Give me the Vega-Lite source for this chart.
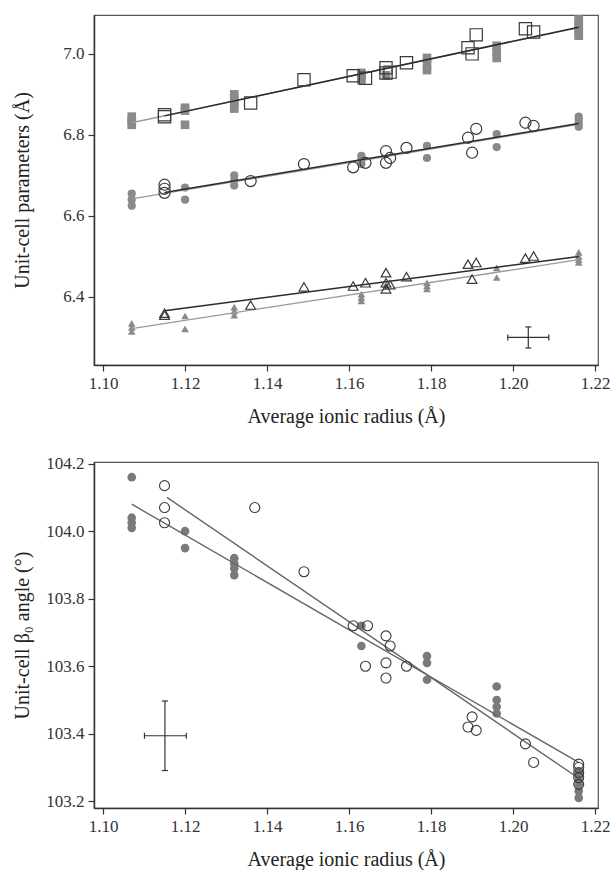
{
  "$schema": "https://vega.github.io/schema/vega-lite/v6.json",
  "background": "white",
  "padding": {"left": 12, "top": 14, "right": 0, "bottom": 0},
  "spacing": 27,
  "config": {
    "view": {"stroke": "#555", "strokeWidth": 1.2},
    "axis": {
      "grid": false,
      "labelFont": "Liberation Serif", "labelFontSize": 17, "labelColor": "#333",
      "titleFont": "Liberation Serif", "titleFontSize": 20, "titleFontWeight": "normal", "titleColor": "#222",
      "domainColor": "#333", "domainWidth": 1.5, "tickColor": "#333", "tickWidth": 1.2, "tickSize": 6, "labelPadding": 4
    },
    "axisX": {"titlePadding": 15}
  },
  "datasets": {
    "ptsA": [
      {"param":"sq","kind":"filled","x":1.107,"y":6.845},{"param":"sq","kind":"filled","x":1.107,"y":6.835},{"param":"sq","kind":"filled","x":1.107,"y":6.825},
      {"param":"sq","kind":"filled","x":1.120,"y":6.867},{"param":"sq","kind":"filled","x":1.120,"y":6.86},{"param":"sq","kind":"filled","x":1.120,"y":6.825},
      {"param":"sq","kind":"filled","x":1.132,"y":6.9},{"param":"sq","kind":"filled","x":1.132,"y":6.888},{"param":"sq","kind":"filled","x":1.132,"y":6.875},{"param":"sq","kind":"filled","x":1.132,"y":6.865},
      {"param":"sq","kind":"filled","x":1.163,"y":6.953},{"param":"sq","kind":"filled","x":1.163,"y":6.945},{"param":"sq","kind":"filled","x":1.163,"y":6.935},
      {"param":"sq","kind":"filled","x":1.169,"y":6.947},
      {"param":"sq","kind":"filled","x":1.179,"y":6.99},{"param":"sq","kind":"filled","x":1.179,"y":6.975},{"param":"sq","kind":"filled","x":1.179,"y":6.96},
      {"param":"sq","kind":"filled","x":1.196,"y":7.02},{"param":"sq","kind":"filled","x":1.196,"y":7.005},{"param":"sq","kind":"filled","x":1.196,"y":6.99},
      {"param":"sq","kind":"filled","x":1.216,"y":7.085},{"param":"sq","kind":"filled","x":1.216,"y":7.075},{"param":"sq","kind":"filled","x":1.216,"y":7.065},{"param":"sq","kind":"filled","x":1.216,"y":7.055},{"param":"sq","kind":"filled","x":1.216,"y":7.045},
      {"param":"sq","kind":"open","x":1.115,"y":6.85},{"param":"sq","kind":"open","x":1.115,"y":6.845},
      {"param":"sq","kind":"open","x":1.136,"y":6.879},{"param":"sq","kind":"open","x":1.149,"y":6.936},
      {"param":"sq","kind":"open","x":1.161,"y":6.946},{"param":"sq","kind":"open","x":1.164,"y":6.94},
      {"param":"sq","kind":"open","x":1.169,"y":6.966},{"param":"sq","kind":"open","x":1.169,"y":6.953},{"param":"sq","kind":"open","x":1.170,"y":6.955},
      {"param":"sq","kind":"open","x":1.174,"y":6.978},{"param":"sq","kind":"open","x":1.189,"y":7.015},{"param":"sq","kind":"open","x":1.190,"y":7.0},
      {"param":"sq","kind":"open","x":1.191,"y":7.047},{"param":"sq","kind":"open","x":1.203,"y":7.062},{"param":"sq","kind":"open","x":1.205,"y":7.054},
      {"param":"ci","kind":"filled","x":1.107,"y":6.655},{"param":"ci","kind":"filled","x":1.107,"y":6.64},{"param":"ci","kind":"filled","x":1.107,"y":6.625},
      {"param":"ci","kind":"filled","x":1.120,"y":6.67},{"param":"ci","kind":"filled","x":1.120,"y":6.64},
      {"param":"ci","kind":"filled","x":1.132,"y":6.70},{"param":"ci","kind":"filled","x":1.132,"y":6.688},{"param":"ci","kind":"filled","x":1.132,"y":6.675},
      {"param":"ci","kind":"filled","x":1.163,"y":6.748},{"param":"ci","kind":"filled","x":1.163,"y":6.738},{"param":"ci","kind":"filled","x":1.163,"y":6.728},
      {"param":"ci","kind":"filled","x":1.179,"y":6.773},{"param":"ci","kind":"filled","x":1.179,"y":6.743},
      {"param":"ci","kind":"filled","x":1.196,"y":6.802},{"param":"ci","kind":"filled","x":1.196,"y":6.77},
      {"param":"ci","kind":"filled","x":1.216,"y":6.845},{"param":"ci","kind":"filled","x":1.216,"y":6.837},{"param":"ci","kind":"filled","x":1.216,"y":6.828},{"param":"ci","kind":"filled","x":1.216,"y":6.82},
      {"param":"ci","kind":"open","x":1.115,"y":6.677},{"param":"ci","kind":"open","x":1.115,"y":6.667},{"param":"ci","kind":"open","x":1.115,"y":6.657},
      {"param":"ci","kind":"open","x":1.136,"y":6.686},{"param":"ci","kind":"open","x":1.149,"y":6.728},{"param":"ci","kind":"open","x":1.161,"y":6.72},
      {"param":"ci","kind":"open","x":1.164,"y":6.731},{"param":"ci","kind":"open","x":1.169,"y":6.76},{"param":"ci","kind":"open","x":1.169,"y":6.731},
      {"param":"ci","kind":"open","x":1.170,"y":6.743},{"param":"ci","kind":"open","x":1.174,"y":6.768},{"param":"ci","kind":"open","x":1.189,"y":6.793},
      {"param":"ci","kind":"open","x":1.190,"y":6.756},{"param":"ci","kind":"open","x":1.191,"y":6.815},{"param":"ci","kind":"open","x":1.203,"y":6.83},{"param":"ci","kind":"open","x":1.205,"y":6.822},
      {"param":"tr","kind":"filled","x":1.107,"y":6.335},{"param":"tr","kind":"filled","x":1.107,"y":6.325},{"param":"tr","kind":"filled","x":1.107,"y":6.315},
      {"param":"tr","kind":"filled","x":1.120,"y":6.353},{"param":"tr","kind":"filled","x":1.120,"y":6.321},
      {"param":"tr","kind":"filled","x":1.132,"y":6.375},{"param":"tr","kind":"filled","x":1.132,"y":6.365},{"param":"tr","kind":"filled","x":1.132,"y":6.355},
      {"param":"tr","kind":"filled","x":1.163,"y":6.407},{"param":"tr","kind":"filled","x":1.163,"y":6.398},{"param":"tr","kind":"filled","x":1.163,"y":6.39},
      {"param":"tr","kind":"filled","x":1.169,"y":6.43},
      {"param":"tr","kind":"filled","x":1.179,"y":6.435},{"param":"tr","kind":"filled","x":1.179,"y":6.427},{"param":"tr","kind":"filled","x":1.179,"y":6.42},
      {"param":"tr","kind":"filled","x":1.196,"y":6.472},{"param":"tr","kind":"filled","x":1.196,"y":6.448},
      {"param":"tr","kind":"filled","x":1.216,"y":6.51},{"param":"tr","kind":"filled","x":1.216,"y":6.5},{"param":"tr","kind":"filled","x":1.216,"y":6.492},{"param":"tr","kind":"filled","x":1.216,"y":6.485},
      {"param":"tr","kind":"open","x":1.115,"y":6.36},{"param":"tr","kind":"open","x":1.115,"y":6.355},
      {"param":"tr","kind":"open","x":1.136,"y":6.38},{"param":"tr","kind":"open","x":1.149,"y":6.425},{"param":"tr","kind":"open","x":1.161,"y":6.427},
      {"param":"tr","kind":"open","x":1.164,"y":6.435},{"param":"tr","kind":"open","x":1.169,"y":6.46},{"param":"tr","kind":"open","x":1.169,"y":6.435},{"param":"tr","kind":"open","x":1.169,"y":6.42},
      {"param":"tr","kind":"open","x":1.170,"y":6.43},{"param":"tr","kind":"open","x":1.174,"y":6.45},{"param":"tr","kind":"open","x":1.189,"y":6.481},
      {"param":"tr","kind":"open","x":1.190,"y":6.444},{"param":"tr","kind":"open","x":1.191,"y":6.485},{"param":"tr","kind":"open","x":1.203,"y":6.496},{"param":"tr","kind":"open","x":1.205,"y":6.501}
    ],
    "linesA": [
      {"param":"sq","fit":"filled","x":1.107,"y":6.83},{"param":"sq","fit":"filled","x":1.216,"y":7.065},
      {"param":"sq","fit":"open","x":1.115,"y":6.847},{"param":"sq","fit":"open","x":1.216,"y":7.066},
      {"param":"ci","fit":"filled","x":1.107,"y":6.642},{"param":"ci","fit":"filled","x":1.216,"y":6.826},
      {"param":"ci","fit":"open","x":1.115,"y":6.658},{"param":"ci","fit":"open","x":1.216,"y":6.828},
      {"param":"tr","fit":"filled","x":1.107,"y":6.322},{"param":"tr","fit":"filled","x":1.216,"y":6.492},
      {"param":"tr","fit":"open","x":1.115,"y":6.366},{"param":"tr","fit":"open","x":1.216,"y":6.5}
    ],
    "errA": [{"x":1.2037,"y":6.3,"xlo":1.1987,"xhi":1.2087,"ylo":6.274,"yhi":6.326}],
    "ptsB": [
      {"kind":"filled","x":1.107,"y":104.16},{"kind":"filled","x":1.107,"y":104.04},{"kind":"filled","x":1.107,"y":104.025},{"kind":"filled","x":1.107,"y":104.01},
      {"kind":"filled","x":1.120,"y":104.0},{"kind":"filled","x":1.120,"y":103.95},
      {"kind":"filled","x":1.132,"y":103.92},{"kind":"filled","x":1.132,"y":103.905},{"kind":"filled","x":1.132,"y":103.89},{"kind":"filled","x":1.132,"y":103.87},
      {"kind":"filled","x":1.163,"y":103.72},{"kind":"filled","x":1.163,"y":103.66},
      {"kind":"filled","x":1.179,"y":103.63},{"kind":"filled","x":1.179,"y":103.61},{"kind":"filled","x":1.179,"y":103.56},
      {"kind":"filled","x":1.196,"y":103.54},{"kind":"filled","x":1.196,"y":103.5},{"kind":"filled","x":1.196,"y":103.48},{"kind":"filled","x":1.196,"y":103.46},
      {"kind":"filled","x":1.216,"y":103.285},{"kind":"filled","x":1.216,"y":103.27},{"kind":"filled","x":1.216,"y":103.25},{"kind":"filled","x":1.216,"y":103.23},{"kind":"filled","x":1.216,"y":103.21},
      {"kind":"open","x":1.115,"y":104.135},{"kind":"open","x":1.115,"y":104.07},{"kind":"open","x":1.115,"y":104.025},
      {"kind":"open","x":1.137,"y":104.07},{"kind":"open","x":1.149,"y":103.88},{"kind":"open","x":1.161,"y":103.72},
      {"kind":"open","x":1.1645,"y":103.72},{"kind":"open","x":1.164,"y":103.6},
      {"kind":"open","x":1.169,"y":103.69},{"kind":"open","x":1.169,"y":103.61},{"kind":"open","x":1.169,"y":103.565},
      {"kind":"open","x":1.170,"y":103.66},{"kind":"open","x":1.174,"y":103.6},
      {"kind":"open","x":1.189,"y":103.42},{"kind":"open","x":1.190,"y":103.45},{"kind":"open","x":1.191,"y":103.41},
      {"kind":"open","x":1.203,"y":103.37},{"kind":"open","x":1.205,"y":103.315},
      {"kind":"open","x":1.216,"y":103.31},{"kind":"open","x":1.216,"y":103.3},{"kind":"open","x":1.216,"y":103.285},{"kind":"open","x":1.216,"y":103.27},{"kind":"open","x":1.216,"y":103.25}
    ],
    "linesB": [
      {"fit":"filled","x":1.107,"y":104.08},{"fit":"filled","x":1.216,"y":103.315},
      {"fit":"open","x":1.1156,"y":104.1},{"fit":"open","x":1.216,"y":103.268}
    ],
    "errB": [{"x":1.1151,"y":103.394,"xlo":1.1101,"xhi":1.1203,"ylo":103.291,"yhi":103.497}]
  },
  "vconcat": [
    {
      "width": 504, "height": 350,
      "resolve": {"scale": {"size": "independent"}},
      "layer": [
        {
          "data": {"name": "ptsA"},
          "transform": [{"filter": "datum.kind == 'filled'"}],
          "mark": {"type": "point", "filled": true, "color": "#8a8a8a", "opacity": 1},
          "encoding": {
            "x": {"field": "x", "type": "quantitative", "scale": {"domain": [1.0978, 1.2207], "nice": false, "zero": false},
                  "axis": {"values": [1.10, 1.12, 1.14, 1.16, 1.18, 1.20, 1.22], "format": ".2f"}, "title": "Average ionic radius (Å)"},
            "y": {"field": "y", "type": "quantitative", "scale": {"domain": [6.232, 7.096], "nice": false, "zero": false},
                  "axis": {"values": [6.4, 6.6, 6.8, 7.0], "format": ".1f", "titlePadding": 30}, "title": "Unit-cell parameters (Å)"},
            "shape": {"field": "param", "type": "nominal", "scale": {"domain": ["sq", "ci", "tr"], "range": ["square", "circle", "triangle-up"]}, "legend": null},
            "size": {"field": "param", "type": "nominal", "scale": {"domain": ["sq", "ci", "tr"], "range": [75, 60, 80]}, "legend": null}
          }
        },
        {
          "data": {"name": "linesA"},
          "transform": [{"filter": "datum.fit == 'filled'"}],
          "mark": {"type": "line", "color": "#9a9a9a", "strokeWidth": 1.3},
          "encoding": {"x": {"field": "x", "type": "quantitative"}, "y": {"field": "y", "type": "quantitative"}, "detail": {"field": "param"}}
        },
        {
          "data": {"name": "linesA"},
          "transform": [{"filter": "datum.fit == 'open'"}],
          "mark": {"type": "line", "color": "#2a2a2a", "strokeWidth": 1.5},
          "encoding": {"x": {"field": "x", "type": "quantitative"}, "y": {"field": "y", "type": "quantitative"}, "detail": {"field": "param"}}
        },
        {
          "data": {"name": "ptsA"},
          "transform": [{"filter": "datum.kind == 'open'"}],
          "mark": {"type": "point", "filled": false, "color": "#3a3a3a", "strokeWidth": 1.2, "opacity": 1},
          "encoding": {
            "x": {"field": "x", "type": "quantitative"},
            "y": {"field": "y", "type": "quantitative"},
            "shape": {"field": "param", "type": "nominal", "scale": {"domain": ["sq", "ci", "tr"], "range": ["square", "circle", "triangle-up"]}, "legend": null},
            "size": {"field": "param", "type": "nominal", "scale": {"domain": ["sq", "ci", "tr"], "range": [150, 95, 150]}, "legend": null}
          }
        },
        {
          "data": {"name": "errA"},
          "mark": {"type": "rule", "color": "#333", "strokeWidth": 1.2},
          "encoding": {"x": {"field": "xlo", "type": "quantitative"}, "x2": {"field": "xhi"}, "y": {"field": "y", "type": "quantitative"}}
        },
        {
          "data": {"name": "errA"},
          "mark": {"type": "rule", "color": "#333", "strokeWidth": 1.2},
          "encoding": {"x": {"field": "x", "type": "quantitative"}, "y": {"field": "ylo", "type": "quantitative"}, "y2": {"field": "yhi"}}
        },
        {
          "data": {"name": "errA"},
          "mark": {"type": "tick", "orient": "vertical", "size": 6, "thickness": 1.2, "color": "#333", "opacity": 1},
          "encoding": {"x": {"field": "xlo", "type": "quantitative"}, "y": {"field": "y", "type": "quantitative"}}
        },
        {
          "data": {"name": "errA"},
          "mark": {"type": "tick", "orient": "vertical", "size": 6, "thickness": 1.2, "color": "#333", "opacity": 1},
          "encoding": {"x": {"field": "xhi", "type": "quantitative"}, "y": {"field": "y", "type": "quantitative"}}
        },
        {
          "data": {"name": "errA"},
          "mark": {"type": "tick", "orient": "horizontal", "size": 6, "thickness": 1.2, "color": "#333", "opacity": 1},
          "encoding": {"x": {"field": "x", "type": "quantitative"}, "y": {"field": "ylo", "type": "quantitative"}}
        },
        {
          "data": {"name": "errA"},
          "mark": {"type": "tick", "orient": "horizontal", "size": 6, "thickness": 1.2, "color": "#333", "opacity": 1},
          "encoding": {"x": {"field": "x", "type": "quantitative"}, "y": {"field": "yhi", "type": "quantitative"}}
        },
        {
          "mark": {"type": "text", "text": "a", "font": "Liberation Serif", "fontSize": 18, "fontWeight": "bold", "color": "#222"},
          "encoding": {"x": {"datum": 1.107, "type": "quantitative"}, "y": {"datum": 7.037, "type": "quantitative"}}
        }
      ]
    },
    {
      "width": 504, "height": 346,
      "layer": [
        {
          "data": {"name": "ptsB"},
          "transform": [{"filter": "datum.kind == 'filled'"}],
          "mark": {"type": "circle", "color": "#7a7a7a", "size": 75, "opacity": 1},
          "encoding": {
            "x": {"field": "x", "type": "quantitative", "scale": {"domain": [1.0978, 1.2207], "nice": false, "zero": false},
                  "axis": {"values": [1.10, 1.12, 1.14, 1.16, 1.18, 1.20, 1.22], "format": ".2f"}, "title": "Average ionic radius (Å)"},
            "y": {"field": "y", "type": "quantitative", "scale": {"domain": [103.18, 104.205], "nice": false, "zero": false},
                  "axis": {"values": [103.2, 103.4, 103.6, 103.8, 104.0, 104.2], "format": ".1f", "titlePadding": 13}, "title": "Unit-cell β₀ angle (°)"}
          }
        },
        {
          "data": {"name": "linesB"},
          "mark": {"type": "line", "color": "#666", "strokeWidth": 1.4},
          "encoding": {"x": {"field": "x", "type": "quantitative"}, "y": {"field": "y", "type": "quantitative"}, "detail": {"field": "fit"}}
        },
        {
          "data": {"name": "ptsB"},
          "transform": [{"filter": "datum.kind == 'open'"}],
          "mark": {"type": "point", "shape": "circle", "filled": false, "color": "#3a3a3a", "size": 100, "strokeWidth": 1.1, "opacity": 1},
          "encoding": {"x": {"field": "x", "type": "quantitative"}, "y": {"field": "y", "type": "quantitative"}}
        },
        {
          "data": {"name": "errB"},
          "mark": {"type": "rule", "color": "#333", "strokeWidth": 1.2},
          "encoding": {"x": {"field": "xlo", "type": "quantitative"}, "x2": {"field": "xhi"}, "y": {"field": "y", "type": "quantitative"}}
        },
        {
          "data": {"name": "errB"},
          "mark": {"type": "rule", "color": "#333", "strokeWidth": 1.2},
          "encoding": {"x": {"field": "x", "type": "quantitative"}, "y": {"field": "ylo", "type": "quantitative"}, "y2": {"field": "yhi"}}
        },
        {
          "data": {"name": "errB"},
          "mark": {"type": "tick", "orient": "vertical", "size": 6, "thickness": 1.2, "color": "#333", "opacity": 1},
          "encoding": {"x": {"field": "xlo", "type": "quantitative"}, "y": {"field": "y", "type": "quantitative"}}
        },
        {
          "data": {"name": "errB"},
          "mark": {"type": "tick", "orient": "vertical", "size": 6, "thickness": 1.2, "color": "#333", "opacity": 1},
          "encoding": {"x": {"field": "xhi", "type": "quantitative"}, "y": {"field": "y", "type": "quantitative"}}
        },
        {
          "data": {"name": "errB"},
          "mark": {"type": "tick", "orient": "horizontal", "size": 6, "thickness": 1.2, "color": "#333", "opacity": 1},
          "encoding": {"x": {"field": "x", "type": "quantitative"}, "y": {"field": "ylo", "type": "quantitative"}}
        },
        {
          "data": {"name": "errB"},
          "mark": {"type": "tick", "orient": "horizontal", "size": 6, "thickness": 1.2, "color": "#333", "opacity": 1},
          "encoding": {"x": {"field": "x", "type": "quantitative"}, "y": {"field": "yhi", "type": "quantitative"}}
        },
        {
          "mark": {"type": "text", "text": "b", "font": "Liberation Serif", "fontSize": 18, "fontWeight": "bold", "color": "#222"},
          "encoding": {"x": {"datum": 1.2127, "type": "quantitative"}, "y": {"datum": 104.132, "type": "quantitative"}}
        }
      ]
    }
  ]
}
